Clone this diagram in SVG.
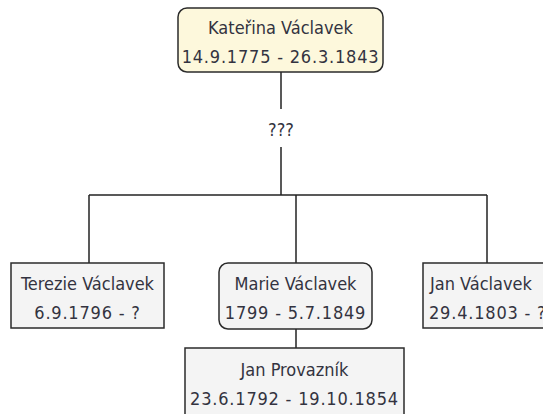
<svg xmlns="http://www.w3.org/2000/svg" width="543" height="414" viewBox="0 0 543 414">
<style>
.box{stroke:#2b2b2b;stroke-width:1.5}
.main{fill:#fdf8dc}
.other{fill:#f4f4f4}
.t{font-family:"DejaVu Sans Condensed","DejaVu Sans",sans-serif;font-size:18px;fill:#333340;text-anchor:middle}
.d{letter-spacing:0.8px}
.c{stroke:#222;stroke-width:1.5;fill:none}
</style>
<rect width="543" height="414" fill="#ffffff"/>
<g id="connectors">
<line class="c" x1="281" y1="72" x2="281" y2="109"/>
<text class="t" x="281" y="136">???</text>
<line class="c" x1="281" y1="147" x2="281" y2="195"/>
<line class="c" x1="89" y1="195" x2="487" y2="195"/>
<line class="c" x1="89" y1="195" x2="89" y2="263"/>
<line class="c" x1="296" y1="195" x2="296" y2="263"/>
<line class="c" x1="487" y1="195" x2="487" y2="263"/>
<line class="c" x1="296" y1="329" x2="296" y2="348"/>
</g>
<g id="katerina">
<rect class="box main" x="178" y="8" width="205" height="64" rx="9"/>
<text class="t" x="280.5" y="34">Kateřina Václavek</text>
<text class="t d" x="280.5" y="63">14.9.1775 - 26.3.1843</text>
</g>
<g id="terezie">
<rect class="box other" x="11" y="263" width="153" height="65"/>
<text class="t" x="87.5" y="290">Terezie Václavek</text>
<text class="t d" x="87.5" y="319">6.9.1796 - ?</text>
</g>
<g id="marie">
<rect class="box other" x="219" y="263" width="153" height="66" rx="9"/>
<text class="t" x="295.5" y="290">Marie Václavek</text>
<text class="t d" x="295.5" y="319">1799 - 5.7.1849</text>
</g>
<g id="jan-vaclavek">
<rect class="box other" x="423" y="263" width="160" height="65"/>
<text class="t" x="430" y="290" style="text-anchor:start">Jan Václavek</text>
<text class="t d" x="429" y="319" style="text-anchor:start">29.4.1803 - ?</text>
</g>
<g id="jan-provaznik">
<rect class="box other" x="185" y="348" width="219" height="80"/>
<text class="t" x="294.5" y="376">Jan Provazník</text>
<text class="t d" x="294.5" y="405">23.6.1792 - 19.10.1854</text>
</g>
</svg>
